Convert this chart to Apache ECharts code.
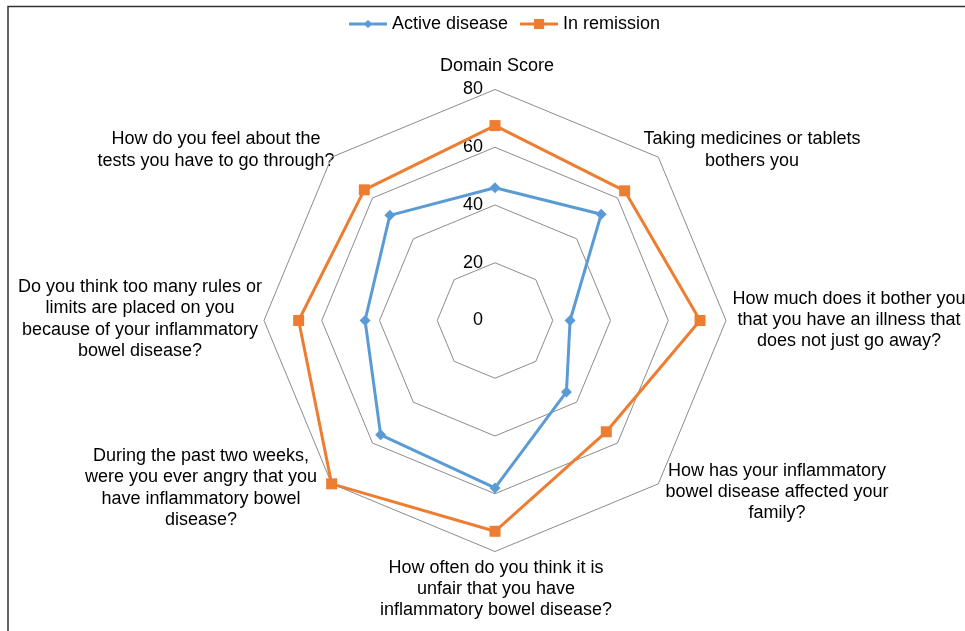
<!DOCTYPE html>
<html>
<head>
<meta charset="utf-8">
<script src="https://cdn.jsdelivr.net/npm/echarts@6/dist/echarts.min.js"></script>
<style>
html,body{margin:0;padding:0;background:#fff;}
#chart{width:965px;height:631px;}
</style>
</head>
<body>
<div id="chart"></div>
<script>
// Categories in clockwise order starting at the top
var categories = [
  'Domain Score',
  'Taking medicines or tablets\nbothers you',
  'How much does it bother you\nthat you have an illness that\ndoes not just go away?',
  'How has your inflammatory\nbowel disease affected your\nfamily?',
  'How often do you think it is\nunfair that you have\ninflammatory bowel disease?',
  'During the past two weeks,\nwere you ever angry that you\nhave inflammatory bowel\ndisease?',
  'Do you think too many rules or\nlimits are placed on you\nbecause of your inflammatory\nbowel disease?',
  'How do you feel about the\ntests you have to go through?'
];
var seriesNames = ['Active disease', 'In remission'];
var activeDisease = [46, 52, 26, 35, 58, 56, 45, 51.5];
var inRemission = [67.5, 63.5, 71, 54.5, 73, 80, 68, 64];
var axisMax = 80;

// Label layout (centers of the text blocks), separate from data
var labelLayout = [
  [497, 66], [752, 150], [849, 320], [777, 492],
  [496, 589], [201, 488], [140, 319], [216, 150]
];

var FONT = '"Liberation Sans", Arial, sans-serif';

// ECharts radar goes counter-clockwise; reorder so it reads clockwise
var order = [0];
for (var i = categories.length - 1; i >= 1; i--) order.push(i);
function reorder(arr) { return order.map(function (k) { return arr[k]; }); }

var indicators = order.map(function (k, idx) {
  var ind = { name: categories[k], max: axisMax, min: 0 };
  if (idx === 0) {
    ind.axisLabel = { show: true };
  }
  return ind;
});

var graphics = [{
  type: 'polyline',
  shape: { points: [[8, 631], [8, 6.5], [965, 6.5]] },
  style: { stroke: '#333', lineWidth: 1.5, fill: null },
  silent: true
}];
categories.forEach(function (c, i) {
  graphics.push({
    type: 'text',
    x: labelLayout[i][0],
    y: labelLayout[i][1],
    style: {
      text: c,
      align: 'center',
      verticalAlign: 'middle',
      font: '18px ' + FONT,
      lineHeight: 21.4,
      fill: '#000'
    },
    silent: true
  });
});

var iconActive = 'path://M0,4 L38,4 L38,7 L0,7 Z M19,1.5 L23.5,5.5 L19,9.5 L14.5,5.5 Z M0,0 L0.01,0 M0,11 L0.01,11';
var iconRemission = 'path://M0,4 L38,4 L38,7 L0,7 Z M14,0.5 L24,0.5 L24,10.5 L14,10.5 Z';

var chart = echarts.init(document.getElementById('chart'));
chart.setOption({
  animation: false,
  backgroundColor: '#fff',
  legend: {
    top: 10,
    left: 344,
    itemWidth: 38,
    itemHeight: 11,
    itemGap: 12,
    textStyle: { fontSize: 18, color: '#000', fontFamily: FONT },
    data: [
      { name: seriesNames[0], icon: iconActive },
      { name: seriesNames[1], icon: iconRemission }
    ]
  },
  radar: {
    center: [495, 320.5],
    radius: 231,
    startAngle: 90,
    shape: 'polygon',
    splitNumber: 4,
    axisName: { show: false },
    axisLine: { show: false },
    axisTick: { show: false },
    axisLabel: {
      show: false,
      color: '#000',
      fontSize: 18,
      fontFamily: FONT,
      margin: 12
    },
    splitLine: { lineStyle: { color: '#8c8c8c', width: 1 } },
    splitArea: { show: false },
    indicator: indicators
  },
  graphic: graphics,
  series: [{
    type: 'radar',
    data: [
      {
        name: seriesNames[0],
        value: reorder(activeDisease),
        symbol: 'diamond',
        symbolSize: 11,
        lineStyle: { color: '#5B9BD5', width: 3 },
        itemStyle: { color: '#5B9BD5' }
      },
      {
        name: seriesNames[1],
        value: reorder(inRemission),
        symbol: 'rect',
        symbolSize: 11,
        lineStyle: { color: '#ED7D31', width: 3 },
        itemStyle: { color: '#ED7D31' }
      }
    ]
  }]
});
</script>
</body>
</html>
